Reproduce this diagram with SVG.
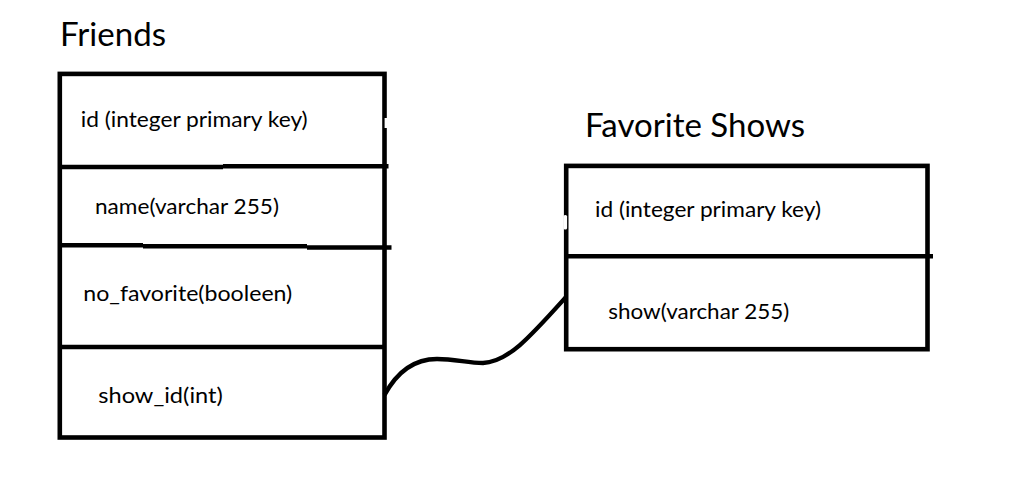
<svg xmlns="http://www.w3.org/2000/svg" width="1019" height="498" viewBox="0 0 1019 498">
<style>
.bg{fill:#ffffff}
.box{fill:none;stroke:#000;stroke-width:4.6}
.ln{fill:none;stroke:#000;stroke-width:4.4}
.erase{fill:#ffffff;stroke:none}
.title{font-family:Lato,"Open Sans","Liberation Sans",sans-serif;font-size:32px;fill:#000}
.field{font-family:Lato,"Open Sans","Liberation Sans",sans-serif;font-size:22px;fill:#000}
</style>
<rect class="bg" x="0" y="0" width="1019" height="498"/>
<g id="friends">
<text class="title" x="60" y="45.5" textLength="106" lengthAdjust="spacingAndGlyphs">Friends</text>
<rect class="box" x="59.8" y="73.9" width="324.7" height="363.6"/>
<path class="ln" d="M60,167 H223 M223,166.2 H388.5"/>
<path class="ln" d="M60,245.3 H143 M143,246.3 H307 M307,247.5 H391.5"/>
<path class="ln" d="M60,347 H384.5"/>
<rect class="erase" x="384.6" y="118" width="2.6" height="10"/>
<text class="field" x="80.7" y="126.7" textLength="227" lengthAdjust="spacingAndGlyphs">id (integer primary key)</text>
<text class="field" x="95" y="214" textLength="184" lengthAdjust="spacingAndGlyphs">name(varchar 255)</text>
<text class="field" x="83.3" y="301" textLength="209" lengthAdjust="spacingAndGlyphs">no_favorite(booleen)</text>
<text class="field" x="98.3" y="403.3" textLength="124.5" lengthAdjust="spacingAndGlyphs">show_id(int)</text>
</g>
<g id="favorite-shows">
<text class="title" x="585" y="137" textLength="220" lengthAdjust="spacingAndGlyphs">Favorite Shows</text>
<rect class="box" x="566.2" y="165.9" width="361.3" height="183.3"/>
<path class="ln" d="M566.2,256.2 H933"/>
<rect class="erase" x="563.5" y="215" width="3.6" height="14.5" rx="1.6"/>
<text class="field" x="595" y="217.3" textLength="226" lengthAdjust="spacingAndGlyphs">id (integer primary key)</text>
<text class="field" x="608.3" y="319" textLength="181" lengthAdjust="spacingAndGlyphs">show(varchar 255)</text>
</g>
<g id="connectors">
<path class="ln" d="M384.5,395 C398,370 415,359 437,359 C455,359 468,363 483,363 C508,362 530,337 566,297"/>
</g>
</svg>
